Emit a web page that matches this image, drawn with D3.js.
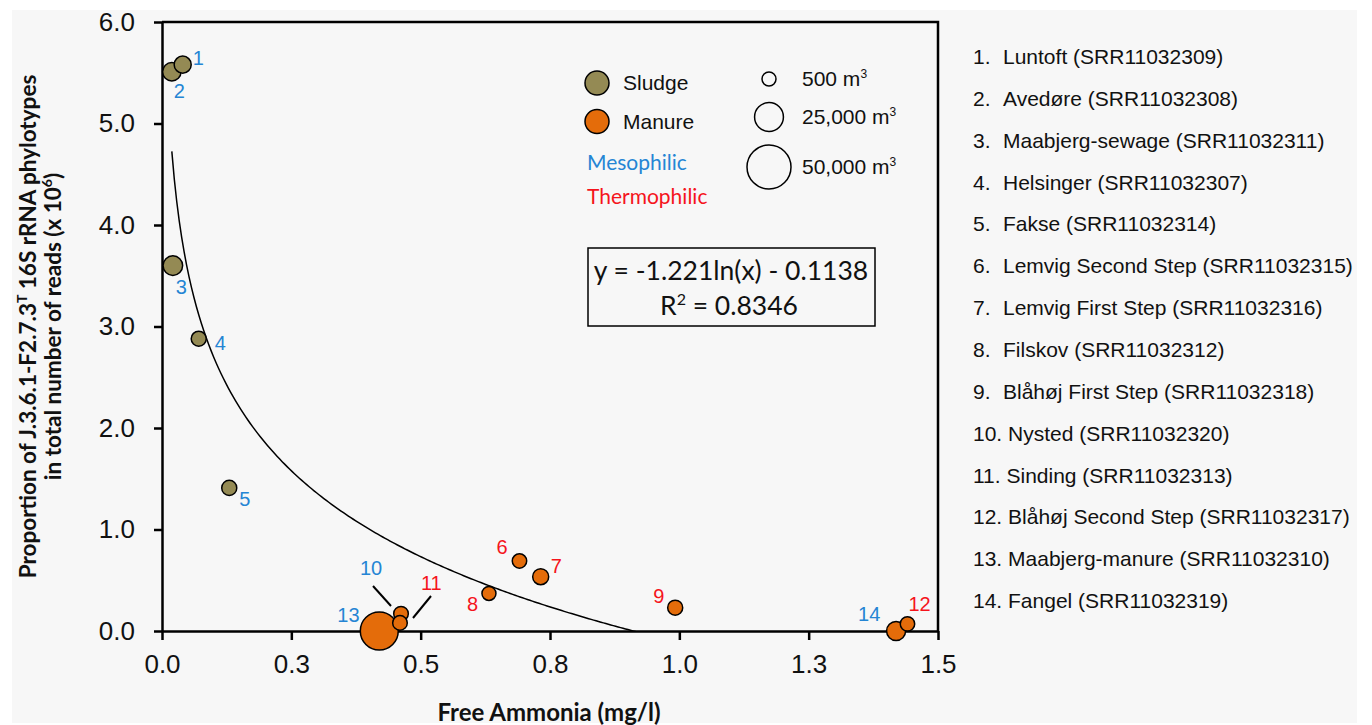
<!DOCTYPE html>
<html>
<head>
<meta charset="utf-8">
<script src="https://cdn.jsdelivr.net/npm/d3@7"></script>
<style>
  body { margin: 0; background: #fff; }
  svg { display: block; }
  .tick text { font-family: "Liberation Sans", Arial, sans-serif; font-size: 26px; fill: #111; }
  .num { font-family: "Liberation Sans", Arial, sans-serif; font-size: 20px; }
  .list { font-family: "Liberation Sans", Arial, sans-serif; font-size: 21px; fill: #111; }
  .title { font-family: Lato, "Open Sans", sans-serif; font-weight: 700; fill: #111; }
</style>
</head>
<body>
<svg id="chart" width="1372" height="725"></svg>
<script>
// site number, name, accession
const siteNo = [1, 2, 3, 4, 5, 6, 7, 8, 9, 10, 11, 12, 13, 14];
const siteNames = ['Luntoft', 'Avedøre', 'Maabjerg-sewage', 'Helsinger', 'Fakse', 'Lemvig Second Step',
  'Lemvig First Step', 'Filskov', 'Blåhøj  First Step', 'Nysted', 'Sinding', 'Blåhøj  Second Step',
  'Maabjerg-manure ', 'Fangel'];
const accessions = ['SRR11032309', 'SRR11032308', 'SRR11032311', 'SRR11032307', 'SRR11032314', 'SRR11032315',
  'SRR11032316', 'SRR11032312', 'SRR11032318', 'SRR11032320', 'SRR11032313', 'SRR11032317',
  'SRR11032310', 'SRR11032319'];

// free ammonia (mg/l) and proportion of phylotype reads (x 10^6)
const freeAmmonia = [0.040, 0.019, 0.021, 0.071, 0.130, 0.691, 0.732, 0.632, 0.992, 0.462, 0.460, 1.441, 0.420, 1.419];
const proportion = [5.58, 5.51, 3.60, 2.88, 1.41, 0.69, 0.535, 0.37, 0.23, 0.17, 0.08, 0.07, 0.0, 0.0];
// reactor volume (m3)
const volume = [5500, 7800, 9700, 2200, 2200, 1200, 3800, 500, 2200, 1500, 1500, 1200, 40000, 8800];
const substrate = ['Sludge', 'Sludge', 'Sludge', 'Sludge', 'Sludge', 'Manure', 'Manure', 'Manure', 'Manure',
  'Manure', 'Manure', 'Manure', 'Manure', 'Manure'];
const regime = ['Mesophilic', 'Mesophilic', 'Mesophilic', 'Mesophilic', 'Mesophilic', 'Thermophilic', 'Thermophilic',
  'Thermophilic', 'Thermophilic', 'Mesophilic', 'Thermophilic', 'Thermophilic', 'Mesophilic', 'Mesophilic'];

// label offsets from the bubble centre (layout only)
const labelDx = [10, 2, 3, 16, 10, -23, 10, -22, -22, -41, 21, 1, -42, -38];
const labelDy = [0, 26, 28, 11, 18, -7, -4, 18, -5, -39, -33, -13, -9, -10];

const xTicks = [0, 0.25, 0.5, 0.75, 1.0, 1.25, 1.5];
const xTickLabels = ['0.0', '0.3', '0.5', '0.8', '1.0', '1.3', '1.5'];
const yTicks = [0, 1, 2, 3, 4, 5, 6];
const yTickLabels = ['0.0', '1.0', '2.0', '3.0', '4.0', '5.0', '6.0'];

const sizeLegend = [500, 25000, 50000];
const sizeLegendLabels = ['500 m', '25,000 m', '50,000 m'];

// logarithmic trend: y = a ln(x) + b
const trendA = -1.221;
const trendB = -0.1138;
const trendR2 = 0.8346;

const fillColor = { Sludge: '#948a54', Manure: '#e46c0a' };
const textColor = { Mesophilic: '#2585d4', Thermophilic: '#f5141c' };

const svg = d3.select('#chart');
svg.append('rect').attr('x', 12).attr('y', 10).attr('width', 1345).attr('height', 713).attr('fill', '#f7f7f7');

const plotL = 162, plotR = 938, plotT = 22, plotB = 631;
const x = d3.scaleLinear().domain([0, 1.5]).range([plotL, plotR]);
const y = d3.scaleLinear().domain([0, 6]).range([plotB, plotT]);
const r = d3.scaleLinear().domain([500, 50000]).range([7, 22]).clamp(true);

svg.append('clipPath').attr('id', 'plot-clip')
  .append('rect').attr('x', plotL).attr('y', plotT).attr('width', plotR - plotL).attr('height', plotB - plotT);

// frame (top and right)
svg.append('path')
  .attr('d', `M${plotL},${plotT}H${plotR}V${plotB}`)
  .attr('fill', 'none').attr('stroke', '#000').attr('stroke-width', 2.5);

const gx = svg.append('g').attr('transform', `translate(0,${plotB})`)
  .call(d3.axisBottom(x).tickValues(xTicks).tickFormat((d, i) => xTickLabels[i])
    .tickSize(9).tickPadding(15).tickSizeOuter(0));
const gy = svg.append('g').attr('transform', `translate(${plotL},0)`)
  .call(d3.axisLeft(y).tickValues(yTicks).tickFormat((d, i) => yTickLabels[i])
    .tickSize(8).tickPadding(19).tickSizeOuter(0));
[gx, gy].forEach(g => {
  g.select('.domain').attr('stroke', '#000').attr('stroke-width', 2.5);
  g.selectAll('.tick line').attr('stroke', '#000').attr('stroke-width', 2.5);
});

// trend line across the data range
const xmin = d3.min(freeAmmonia), xmax = d3.max(freeAmmonia);
const trendPts = d3.range(0, 301).map(i => {
  const xv = xmin + (xmax - xmin) * i / 300;
  return [xv, trendA * Math.log(xv) + trendB];
});
svg.append('path')
  .datum(trendPts)
  .attr('clip-path', 'url(#plot-clip)')
  .attr('fill', 'none').attr('stroke', '#000').attr('stroke-width', 1.5)
  .attr('d', d3.line().x(d => x(d[0])).y(d => y(d[1])));

const points = siteNo.map((n, i) => ({
  n, x: freeAmmonia[i], y: proportion[i], v: volume[i], s: substrate[i], t: regime[i],
  dx: labelDx[i], dy: labelDy[i]
}));

// leader lines for the crowded 10 / 11 pair
const leaders = [[10, 373, 586, 391, 606], [11, 431, 596, 413, 618]];
svg.selectAll('.leader').data(leaders).join('line')
  .attr('x1', d => d[1]).attr('y1', d => d[2]).attr('x2', d => d[3]).attr('y2', d => d[4])
  .attr('stroke', '#000').attr('stroke-width', 2);

svg.append('g').selectAll('circle')
  .data(points.slice().sort((a, b) => b.v - a.v))
  .join('circle')
  .attr('cx', d => x(d.x)).attr('cy', d => y(d.y)).attr('r', d => r(d.v))
  .attr('fill', d => fillColor[d.s]).attr('stroke', '#000').attr('stroke-width', 1.5);

svg.append('g').selectAll('text')
  .data(points)
  .join('text')
  .attr('class', 'num')
  .attr('x', d => x(d.x) + d.dx).attr('y', d => y(d.y) + d.dy)
  .attr('fill', d => textColor[d.t])
  .text(d => d.n);

// legend: substrate
const leg = svg.append('g');
['Sludge', 'Manure'].forEach((k, i) => {
  leg.append('circle').attr('cx', 597).attr('cy', 83 + i * 38.5).attr('r', 12)
    .attr('fill', fillColor[k]).attr('stroke', '#000').attr('stroke-width', 1.5);
  leg.append('text').attr('class', 'list').attr('x', 623).attr('y', 90 + i * 38.5)
    .attr('font-size', 20).text(k);
});
['Mesophilic', 'Thermophilic'].forEach((k, i) => {
  leg.append('text').attr('x', 587).attr('y', 170 + i * 34)
    .attr('font-family', 'Lato, sans-serif').attr('font-size', 21)
    .attr('fill', textColor[k]).text(k);
});

// legend: size
const sizeY = [79, 117, 167];
sizeLegend.forEach((v, i) => {
  leg.append('circle').attr('cx', 769).attr('cy', sizeY[i]).attr('r', r(v))
    .attr('fill', 'none').attr('stroke', '#000').attr('stroke-width', 1.5);
  const t = leg.append('text').attr('class', 'list').attr('x', 802).attr('y', sizeY[i] + 7)
    .attr('font-size', 18).text(sizeLegendLabels[i]);
  t.append('tspan').attr('font-size', 12).attr('dy', -8).text('3');
});

// equation box
svg.append('rect').attr('x', 588).attr('y', 248).attr('width', 287).attr('height', 78)
  .attr('fill', 'none').attr('stroke', '#000').attr('stroke-width', 1.5);
svg.append('text').attr('x', 731).attr('y', 280).attr('text-anchor', 'middle')
  .attr('font-family', 'Lato, sans-serif').attr('font-size', 26.5).attr('fill', '#111')
  .text(`y = ${trendA}ln(x) - ${Math.abs(trendB)}`);
const r2 = svg.append('text').attr('x', 729).attr('y', 315).attr('text-anchor', 'middle')
  .attr('font-family', 'Lato, sans-serif').attr('font-size', 26.5).attr('fill', '#111');
r2.append('tspan').text('R');
r2.append('tspan').attr('font-size', 16).attr('dy', -10).text('2');
r2.append('tspan').attr('dy', 10).text(` = ${trendR2}`);

// site list
const list = svg.append('g');
siteNo.forEach((n, i) => {
  const yy = 64 + i * 41.85;
  if (n < 10) {
    list.append('text').attr('class', 'list').attr('x', 973).attr('y', yy).text(n + '.');
    list.append('text').attr('class', 'list').attr('x', 1003).attr('y', yy)
      .text(`${siteNames[i]} (${accessions[i]})`);
  } else {
    list.append('text').attr('class', 'list').attr('x', 973).attr('y', yy)
      .text(`${n}. ${siteNames[i]} (${accessions[i]})`);
  }
});

// axis titles
svg.append('text').attr('class', 'title').attr('x', 549).attr('y', 721)
  .attr('text-anchor', 'middle').attr('font-size', 24).text('Free Ammonia  (mg/l)');

const yt = svg.append('g').attr('transform', `translate(0,${(plotT + plotB) / 2}) rotate(-90)`);
const l1 = yt.append('text').attr('class', 'title').attr('x', 0).attr('y', 36)
  .attr('text-anchor', 'middle').attr('font-size', 22.5);
l1.append('tspan').text('Proportion of  J.3.6.1-F2.7.3');
l1.append('tspan').attr('font-size', 14).attr('dy', -9).text('T');
l1.append('tspan').attr('dy', 9).text('  16S rRNA phylotypes');
const l2 = yt.append('text').attr('class', 'title').attr('x', 0).attr('y', 61)
  .attr('text-anchor', 'middle').attr('font-size', 22.5);
l2.append('tspan').text('in total number of reads (x 10');
l2.append('tspan').attr('font-size', 14).attr('dy', -9).text('6');
l2.append('tspan').attr('dy', 9).text(')');
</script>
</body>
</html>
